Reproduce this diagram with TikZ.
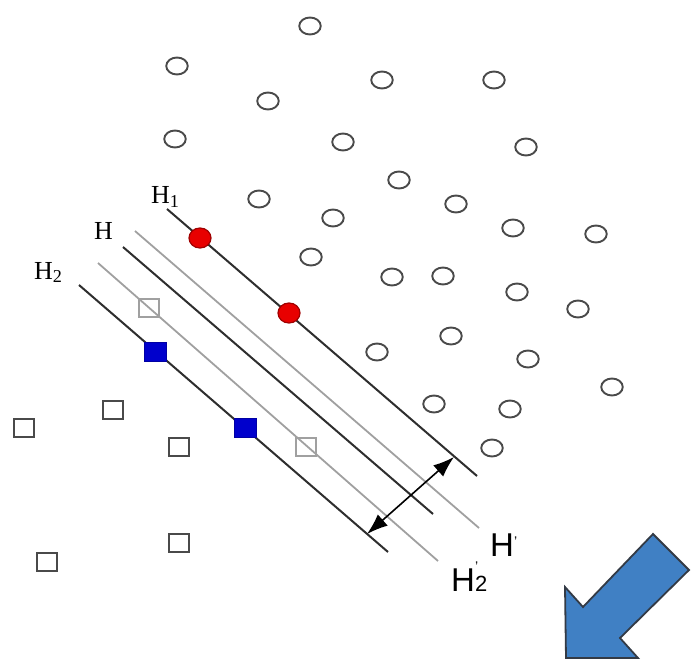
\documentclass[tikz,border=0pt]{standalone}
\usepackage{fontspec}
\setmainfont{Liberation Serif}
\setsansfont{Liberation Sans}
\usetikzlibrary{shapes.geometric,arrows.meta}
\definecolor{dotgray}{HTML}{4A4A4A}
\definecolor{linedark}{HTML}{2E2E2E}
\definecolor{linelight}{HTML}{A0A0A0}
\definecolor{redfill}{HTML}{E80000}
\definecolor{redline}{HTML}{A00000}
\definecolor{bluefill}{HTML}{0000CC}
\definecolor{arrowblue}{HTML}{4080C4}
\definecolor{arrowline}{HTML}{333A45}
\tikzset{
  circpt/.style={ellipse,draw=dotgray,line width=1.9pt,minimum width=21.5pt,minimum height=17pt,inner sep=0pt},
  sqpt/.style={rectangle,draw=dotgray,line width=1.9pt,minimum width=20pt,minimum height=18pt,inner sep=0pt},
  sqlight/.style={rectangle,draw=linelight,line width=1.6pt,minimum width=20pt,minimum height=18pt,inner sep=0pt},
  sqblue/.style={rectangle,draw=bluefill!80!black,fill=bluefill,line width=0.8pt,minimum width=22pt,minimum height=19pt,inner sep=0pt},
  redpt/.style={ellipse,draw=redline,fill=redfill,line width=1.2pt,minimum width=22pt,minimum height=20pt,inner sep=0pt},
  darkln/.style={draw=linedark,line width=2pt},
  lightln/.style={draw=linelight,line width=1.8pt},
  serlbl/.style={font=\fontsize{26}{26}\selectfont,inner sep=0pt,anchor=base west},
  sanslbl/.style={font=\sffamily\fontsize{33}{33}\selectfont,inner sep=0pt,anchor=base west},
  dblarrow/.style={draw=black,line width=1.6pt,{Latex[length=21pt,width=15pt]}-{Latex[length=21pt,width=15pt]}},
  bigarrow/.style={fill=arrowblue,draw=arrowline,line width=1.8pt,line join=miter}
}
\begin{document}
\begin{tikzpicture}[x=1pt,y=-1pt]
\useasboundingbox (0,0) rectangle (697,669);
% hyperplane lines
\coordinate (h1a) at (167,209); \coordinate (h1b) at (477,476);
\coordinate (hpa) at (135,231); \coordinate (hpb) at (479,528);
\coordinate (ha) at (123,247);  \coordinate (hb) at (433,514);
\coordinate (h2pa) at (98,263); \coordinate (h2pb) at (438,561);
\coordinate (h2a) at (79,285);  \coordinate (h2b) at (388,552);
\draw[lightln] (hpa) -- (hpb);
\draw[lightln] (h2pa) -- (h2pb);
\draw[darkln] (h1a) -- (h1b);
\draw[darkln] (ha) -- (hb);
\draw[darkln] (h2a) -- (h2b);
% margin arrow
\coordinate (ma) at (367,534); \coordinate (mb) at (454,457);
\draw[dblarrow] (ma) -- (mb);
% circles
\foreach \n/\x/\y in {c1/310/26, c2/177/66, c3/382/80, c4/494/80, c5/268/101,
  c6/175/139, c7/343/142, c8/526/147, c9/399/180, c10/259/199, c11/456/204,
  c12/333/218, c13/513/228, c14/596/234, c15/311/257, c16/392/277, c17/443/276,
  c18/517/292, c19/578/309, c20/377/352, c21/451/336, c22/528/359, c23/612/387,
  c24/434/404, c25/510/409, c26/492/448}
  \node[circpt] (\n) at (\x,\y) {};
% support vectors (red)
\node[redpt] (r1) at (200,238) {};
\node[redpt] (r2) at (289,313) {};
% squares
\foreach \n/\x/\y in {s1/24/428, s2/113/410, s3/179/447, s4/47/562, s5/179/543}
  \node[sqpt] (\n) at (\x,\y) {};
\node[sqlight] (g1) at (149,308) {};
\node[sqlight] (g2) at (306,447) {};
\node[sqblue] (b1) at (155,352) {};
\node[sqblue] (b2) at (245,428) {};
% labels
\node[serlbl] (lh1) at (151,204) {H\textsubscript{1}};
\node[serlbl] (lh) at (94,239) {H};
\node[serlbl] (lh2) at (34,279) {H\textsubscript{2}};
\node[sanslbl] (lhp) at (490,556) {H\raisebox{0.3em}{\fontsize{14}{14}\selectfont '}};
\node[sanslbl] (lh2p) at (451,591) {H\rlap{\raisebox{0.6em}{\fontsize{14}{14}\selectfont '}}\raisebox{-0.03em}{\fontsize{22}{22}\selectfont 2}};
% big blue arrow
\filldraw[bigarrow] (653,534) -- (689,570) -- (620,638) -- (638,658) -- (566,658) -- (565,587) -- (583,607) -- cycle;
\end{tikzpicture}
\end{document}
